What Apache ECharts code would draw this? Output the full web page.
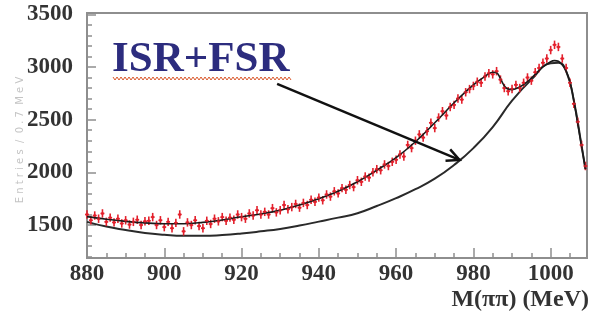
<!DOCTYPE html>
<html><head><meta charset="utf-8">
<script src="https://cdn.jsdelivr.net/npm/echarts@6/dist/echarts.min.js"></script>
<style>html,body{margin:0;padding:0;background:#fff}#c{width:591px;height:320px}</style>
</head><body><div id="c"></div>
<script>
// ---- data ----
const dataM = [880,881,882,883,884,885,886,887,888,889,890,891,892,893,894,895,896,897,898,899,
900,901,902,903,904,905,906,907,908,909,910,911,912,913,914,915,916,917,918,919,
920,921,922,923,924,925,926,927,928,929,930,931,932,933,934,935,936,937,938,939,
940,941,942,943,944,945,946,947,948,949,950,951,952,953,954,955,956,957,958,959,
960,961,962,963,964,965,966,967,968,969,970,971,972,973,974,975,976,977,978,979,
980,981,982,983,984,985,986,987,988,989,990,991,992,993,994,995,996,997,998,999,
1000,1001,1002,1003,1004,1005,1006,1007,1008,1009];
const dataV = [1600,1545,1590,1560,1610,1530,1570,1525,1560,1515,1545,1505,1530,1550,1500,1535,1540,1575,1500,1545,
1480,1530,1470,1520,1600,1440,1525,1500,1545,1490,1470,1540,1510,1560,1535,1575,1540,1570,1550,1600,
1575,1560,1610,1590,1640,1600,1625,1600,1660,1620,1640,1690,1650,1670,1700,1665,1710,1690,1740,1720,
1760,1735,1790,1770,1820,1800,1850,1835,1880,1860,1925,1910,1960,1950,2000,2030,2020,2075,2060,2100,
2120,2170,2150,2260,2230,2300,2360,2330,2390,2470,2420,2520,2580,2540,2620,2640,2700,2690,2760,2790,
2820,2860,2850,2910,2940,2930,2960,2880,2800,2770,2790,2830,2800,2850,2900,2870,2950,2990,3040,3080,
3160,3210,3190,3080,2990,2850,2650,2480,2260,2060];
const ERR = 40;
const fitM = [880,885,890,895,900,905,910,915,920,925,930,935,940,945,950,955,960,965,970,975,980,983,985,986,987,988,989,990,992,994,996,998,1000,1001,1002,1003,1004,1005,1006,1007,1008,1009];
const fitV = [1580,1555,1535,1520,1512,1512,1525,1548,1578,1605,1640,1690,1750,1820,1910,2020,2140,2290,2470,2660,2830,2910,2950,2945,2890,2820,2790,2785,2810,2860,2930,3000,3050,3060,3055,3020,2960,2860,2680,2460,2250,2030];
const isrM = [880,885,890,895,900,905,910,915,920,925,930,935,940,945,950,955,960,965,970,975,980,985,990,995,1000,1002,1004,1006,1008,1009];
const isrV = [1530,1485,1453,1425,1408,1398,1397,1405,1420,1440,1463,1495,1532,1570,1612,1680,1755,1840,1940,2070,2230,2430,2680,2880,3035,3040,2960,2680,2250,2030];
const arrowFrom = [929.2, 2839];
const arrowTo = [976.4, 2118];
const xMajor = [880,900,920,940,960,980,1000];
const xMinor = [880,885,890,895,900,905,910,915,920,925,930,935,940,945,950,955,960,965,970,975,980,985,990,995,1000,1005];
const yMajor = [1500,2000,2500,3000,3500];
const yMinor = [1200,1300,1400,1500,1600,1700,1800,1900,2000,2100,2200,2300,2400,2500,2600,2700,2800,2900,3000,3100,3200,3300,3400,3500];
const annotText = 'ISR+FSR';
const xTitle = 'M(\u03c0\u03c0) (MeV)';

// ---- chart ----
const chart = echarts.init(document.getElementById('c'), null, {renderer:'canvas'});
const XMIN = 880, XMAX = 1009.4, YMIN = 1187, YMAX = 3512;
const frame = '#8e8e8e';
const labFont = {fontFamily:'Liberation Serif', fontWeight:'bold', fontSize:23, color:'#333', formatter:v=>String(v)};
const red = '#e3202c';

const zig = [];
for (let x = 113, i = 0; x <= 292; x += 2, i++) zig.push([x, i % 2 ? 80 : 77]);

chart.setOption({
  animation:false,
  grid:{left:87, right:4, top:13, bottom:62, show:true, borderColor:frame, borderWidth:2},
  xAxis:[
    {type:'value', min:XMIN, max:XMAX, position:'bottom',
     axisLine:{show:true, lineStyle:{color:frame, width:2}},
     axisTick:{show:true, inside:true, length:10, customValues:xMajor, lineStyle:{color:frame, width:1.5}},
     axisLabel:Object.assign({show:true, margin:5, customValues:xMajor}, labFont),
     splitLine:{show:false}},
    {type:'value', min:XMIN, max:XMAX, position:'bottom',
     axisLine:{show:false},
     axisTick:{show:true, inside:true, length:5, customValues:xMinor, lineStyle:{color:frame, width:1.5}},
     axisLabel:{show:false}, splitLine:{show:false}}
  ],
  yAxis:[
    {type:'value', min:YMIN, max:YMAX, position:'left',
     axisLine:{show:true, lineStyle:{color:frame, width:2}},
     axisTick:{show:true, inside:true, length:9, customValues:yMajor, lineStyle:{color:frame, width:1.5}},
     axisLabel:Object.assign({show:true, margin:14, customValues:yMajor}, labFont),
     splitLine:{show:false}},
    {type:'value', min:YMIN, max:YMAX, position:'left',
     axisLine:{show:false},
     axisTick:{show:true, inside:true, length:5, customValues:yMinor, lineStyle:{color:frame, width:1.5}},
     axisLabel:{show:false}, splitLine:{show:false}}
  ],
  series:[
    {type:'line', name:'ISR', data:isrM.map((m,i)=>[m,isrV[i]]), showSymbol:false, smooth:0.5,
     lineStyle:{color:'#2a2a2a', width:2}, z:3},
    {type:'custom', name:'errors', data:dataM.map((m,i)=>[m,dataV[i]]), z:4,
     renderItem:function(params, api){
       const m = api.value(0), v = api.value(1);
       const top = api.coord([m, v+ERR]), bot = api.coord([m, v-ERR]);
       const l = api.coord([m-0.5, v]), r = api.coord([m+0.5, v]);
       const st = {stroke:red, lineWidth:1.6};
       return {type:'group', children:[
         {type:'line', shape:{x1:top[0], y1:top[1], x2:bot[0], y2:bot[1]}, style:st},
         {type:'line', shape:{x1:l[0], y1:l[1], x2:r[0], y2:r[1]}, style:st}
       ]};
     }},
    {type:'line', name:'fit', data:fitM.map((m,i)=>[m,fitV[i]]), showSymbol:false, smooth:0.4,
     lineStyle:{color:'#1a1a1a', width:1.6}, z:5},
    {type:'scatter', name:'data', data:dataM.map((m,i)=>[m,dataV[i]]), symbol:'circle', symbolSize:3,
     itemStyle:{color:red, opacity:0.8}, z:6},
    {type:'custom', name:'arrow', data:[[arrowFrom[0],arrowFrom[1],arrowTo[0],arrowTo[1]]], z:7,
     renderItem:function(params, api){
       const a = api.coord([api.value(0), api.value(1)]);
       const b = api.coord([api.value(2), api.value(3)]);
       const ang = Math.atan2(b[1]-a[1], b[0]-a[0]);
       const L = 14, w = 0.45;
       const h1 = [b[0]-L*Math.cos(ang-w), b[1]-L*Math.sin(ang-w)];
       const h2 = [b[0]-L*Math.cos(ang+w), b[1]-L*Math.sin(ang+w)];
       const st = {stroke:'#111', lineWidth:2.5, fill:null};
       return {type:'group', children:[
         {type:'line', shape:{x1:a[0], y1:a[1], x2:b[0], y2:b[1]}, style:st},
         {type:'polyline', shape:{points:[h1, b, h2]}, style:st}
       ]};
     }}
  ],
  graphic:[
    {type:'text', left:112, top:38, style:{text:annotText, font:'bold 43px "Liberation Serif"', fill:'#2c2c7e'}, z:10},
    {type:'polyline', shape:{points:zig}, style:{stroke:'#d8582c', lineWidth:1, fill:null}, z:10},
    {type:'text', right:2, top:288, style:{text:xTitle, font:'bold 24px "Liberation Serif"', fill:'#333'}, z:10},
    {type:'text', x:20, y:140, rotation:Math.PI/2, style:{text:'E n t r i e s  /  0 . 7  M e V', font:'10px "DejaVu Sans"', fill:'#c4c4c4', align:'center', verticalAlign:'middle'}, z:1}
  ]
});
</script></body></html>
